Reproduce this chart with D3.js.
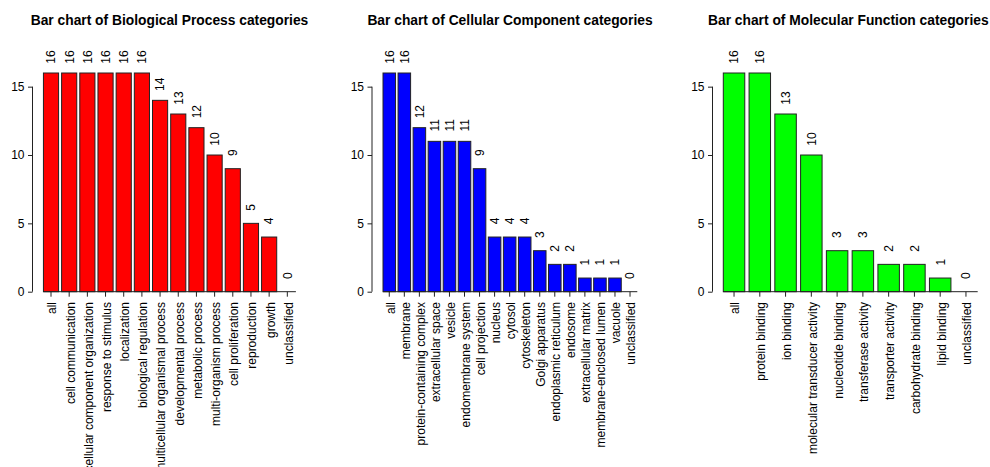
<!DOCTYPE html>
<html>
<head>
<meta charset="utf-8">
<script src="https://cdn.jsdelivr.net/npm/d3@7"></script>
<style>
  html, body { margin: 0; padding: 0; background: #fff; }
  svg { display: block; font-family: "Liberation Sans", Arial, sans-serif; }
</style>
</head>
<body>
<svg id="chart" width="990" height="467"></svg>
<script>
// GO category counts for each ontology
const bpCategories = ["all", "cell communication", "cellular component organization",
  "response to stimulus", "localization", "biological regulation",
  "multicellular organismal process", "developmental process", "metabolic process",
  "multi-organism process", "cell proliferation", "reproduction", "growth", "unclassified"];
const bpValues = [16, 16, 16, 16, 16, 16, 14, 13, 12, 10, 9, 5, 4, 0];

const ccCategories = ["all", "membrane", "protein-containing complex", "extracellular space",
  "vesicle", "endomembrane system", "cell projection", "nucleus", "cytosol", "cytoskeleton",
  "Golgi apparatus", "endoplasmic reticulum", "endosome", "extracellular matrix",
  "membrane-enclosed lumen", "vacuole", "unclassified"];
const ccValues = [16, 16, 12, 11, 11, 11, 9, 4, 4, 4, 3, 2, 2, 1, 1, 1, 0];

const mfCategories = ["all", "protein binding", "ion binding", "molecular transducer activity",
  "nucleotide binding", "transferase activity", "transporter activity",
  "carbohydrate binding", "lipid binding", "unclassified"];
const mfValues = [16, 16, 13, 10, 3, 3, 2, 2, 1, 0];

const yTicks = [0, 5, 10, 15];

const panels = [
  { title: "Bar chart of Biological Process categories", cats: bpCategories, vals: bpValues,
    fill: "#ff0000", axisX: 32.5, x0: 40.4, x1: 294.9, titleX: 169.5 },
  { title: "Bar chart of Cellular Component categories", cats: ccCategories, vals: ccValues,
    fill: "#0000ff", axisX: 372, x0: 380.5, x1: 636.3, titleX: 510 },
  { title: "Bar chart of Molecular Function categories", cats: mfCategories, vals: mfValues,
    fill: "#00ff00", axisX: 712.5, x0: 719, x1: 976.7, titleX: 848.3 }
];

const svg = d3.select("#chart");
const y = d3.scaleLinear().domain([0, 16]).range([291.7, 73.0]);
const ink = "#222";

panels.forEach(p => {
  const g = svg.append("g");

  // bars placed like base-graphics barplot: a 0.2 gap before each bar
  const x = d3.scaleBand()
    .domain(p.cats)
    .range([p.x0, p.x1])
    .paddingInner(1 / 6)
    .paddingOuter(1 / 12)
    .align(1);

  g.append("text")
    .attr("x", p.titleX).attr("y", 24.5)
    .attr("text-anchor", "middle")
    .attr("font-size", 13.8).attr("font-weight", "bold")
    .attr("fill", "#000")
    .text(p.title);

  const data = p.cats.map((c, i) => ({ c, v: p.vals[i] }));

  g.selectAll("rect.bar").data(data.filter(d => d.v > 0)).join("rect")
    .attr("class", "bar")
    .attr("x", d => x(d.c))
    .attr("y", d => y(d.v))
    .attr("width", x.bandwidth())
    .attr("height", d => y(0) - y(d.v))
    .attr("fill", p.fill)
    .attr("stroke", ink)
    .attr("stroke-width", 1);

  // value labels above each bar
  g.selectAll("text.val").data(data).join("text")
    .attr("class", "val")
    .attr("transform", d => `translate(${x(d.c) + x.bandwidth() / 2},${y(d.v) - 16}) rotate(-90)`)
    .attr("text-anchor", "middle")
    .attr("dy", "0.36em")
    .attr("font-size", 12)
    .attr("fill", "#000")
    .text(d => d.v);

  // y axis spanning the tick range only
  const yAxis = g.append("g")
    .attr("transform", `translate(${p.axisX},0)`)
    .call(d3.axisLeft(y).tickValues(yTicks).tickSize(4.5).tickPadding(3.5));
  yAxis.select(".domain").remove();
  yAxis.append("line")
    .attr("x1", 0).attr("x2", 0)
    .attr("y1", y(0)).attr("y2", y(d3.max(yTicks)))
    .attr("stroke", ink);
  yAxis.selectAll(".tick line").attr("stroke", ink);
  yAxis.selectAll(".tick text")
    .attr("font-size", 12).attr("font-family", null).attr("fill", "#000");

  // x axis with perpendicular category labels
  const xAxis = g.append("g")
    .attr("transform", `translate(0,${y(0)})`)
    .call(d3.axisBottom(x).tickSize(5).tickSizeOuter(0));
  xAxis.select(".domain").remove();
  xAxis.append("line")
    .attr("x1", x(p.cats[0])).attr("x2", p.x1 + 1)
    .attr("y1", 0).attr("y2", 0)
    .attr("stroke", ink);
  xAxis.selectAll(".tick line").attr("stroke", ink);
  xAxis.selectAll(".tick text")
    .attr("font-size", 12).attr("font-family", null).attr("fill", "#000")
    .attr("transform", "rotate(-90)")
    .attr("text-anchor", "end")
    .attr("x", -10.3).attr("y", 0)
    .attr("dy", "0.45em");
});
</script>
</body>
</html>
